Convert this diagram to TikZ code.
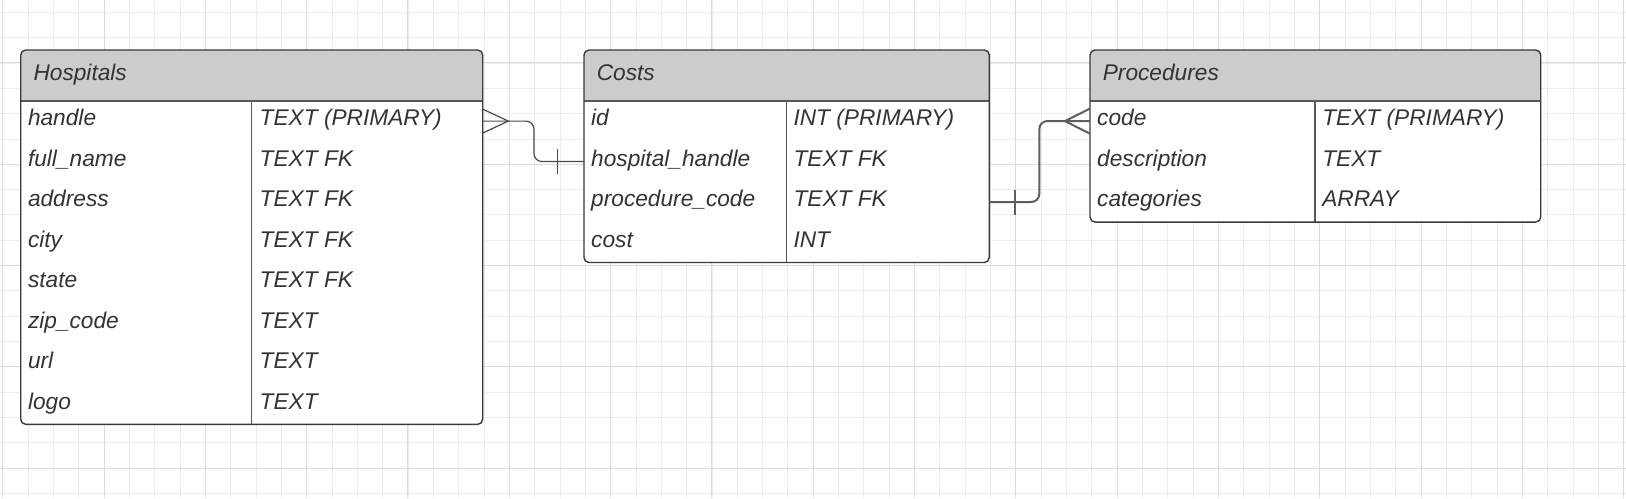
\documentclass[tikz,border=0pt]{standalone}
\usepackage{fontspec}
\setmainfont{Liberation Sans}
\usetikzlibrary{calc,fit}
\definecolor{gridminor}{HTML}{EDEDED}
\definecolor{gridmajor}{HTML}{DCDCDC}
\definecolor{hdrfill}{HTML}{CCCCCC}
\definecolor{bordercol}{HTML}{3A3A3A}
\definecolor{txtcol}{HTML}{333333}
\definecolor{conncolA}{HTML}{4A4A4A}
\definecolor{conncolB}{HTML}{5E5E5E}
\newcommand\ertable[6]{%
  \pgfmathsetmacro\ybot{100.7+40.45*#5}
  \node[fit={(#2,50) (#3,\ybot)}, inner sep=0pt, outer sep=0pt] (#1) {};
  \fill[white, rounded corners=2.5pt] (#1.north west) rectangle (#1.south east);
  \begin{scope}
    \clip[rounded corners=2.5pt] (#1.north west) rectangle (#1.south east);
    \fill[hdrfill] (#2,50) rectangle (#3,100.7);
  \end{scope}
  \draw[sepline] (#2,100.7) -- (#3,100.7);
  \draw[divline] (#4,100.7) -- (#4,\ybot);
  \draw[tblborder, rounded corners=2.5pt] (#1.north west) rectangle (#1.south east);
  \node[lbl] (#1-title) at ({#2+12.8},80.5) {#6};
}
\begin{document}
\begin{tikzpicture}[x=0.5pt,y=-0.5pt,
  lbl/.style={anchor=base west, inner sep=0pt, outer sep=0pt, text=txtcol, font=\fontsize{11.35}{13}\selectfont\itshape},
  sepline/.style={draw=bordercol!85!white, line width=0.85pt},
  divline/.style={draw=bordercol!85!white, line width=0.65pt},
  tblborder/.style={draw=bordercol, line width=0.7pt},
  conna/.style={draw=conncolA, line width=0.6pt},
  connb/.style={draw=conncolB, line width=1pt},
  gminor/.style={draw=gridminor, line width=0.45pt},
  gmajor/.style={draw=gridmajor, line width=0.5pt}]
\useasboundingbox (0,0) rectangle (1626,498);
\fill[white] (0,0) rectangle (1626,498);
% grid
\foreach \k in {0,...,64} { \draw[gminor] ({2.7+25.33*\k},0) -- ({2.7+25.33*\k},498); }
\foreach \k in {0,...,19} { \draw[gminor] (0,{12.3+25.33*\k}) -- (1626,{12.3+25.33*\k}); }
\foreach \k in {0,4,...,64} { \draw[gmajor] ({2.7+25.33*\k},0) -- ({2.7+25.33*\k},498); }
\foreach \k in {2,6,...,18} { \draw[gmajor] (0,{12.3+25.33*\k}) -- (1626,{12.3+25.33*\k}); }

% Hospitals
\ertable{hosp}{20.7}{482.7}{251.7}{8}{Hospitals}
\foreach \i/\a/\b in {1/handle/TEXT (PRIMARY),2/full\_name/TEXT FK,3/address/TEXT FK,4/city/TEXT FK,5/state/TEXT FK,6/zip\_code/TEXT,7/url/TEXT,8/logo/TEXT} {
  \coordinate (hosp-r\i) at (20.7,{100.7+40.45*(\i-1)+20.4});
  \node[lbl] (hosp-a\i) at (28,{100.7+40.45*(\i-1)+25.2}) {\a};
  \node[lbl] (hosp-b\i) at (259.7,{100.7+40.45*(\i-1)+25.2}) {\b};
}

% Costs
\ertable{costs}{584}{989.3}{786.7}{4}{Costs}
\foreach \i/\a/\b in {1/id/INT (PRIMARY),2/hospital\_handle/TEXT FK,3/procedure\_code/TEXT FK,4/cost/INT} {
  \coordinate (costs-r\i) at (584,{100.7+40.45*(\i-1)+20.4});
  \node[lbl] (costs-a\i) at (591.2,{100.7+40.45*(\i-1)+25.2}) {\a};
  \node[lbl] (costs-b\i) at (793.5,{100.7+40.45*(\i-1)+25.2}) {\b};
}

% Procedures
\ertable{proc}{1090}{1540.7}{1315}{3}{Procedures}
\foreach \i/\a/\b in {1/code/TEXT (PRIMARY),2/description/TEXT,3/categories/ARRAY} {
  \coordinate (proc-r\i) at (1090,{100.7+40.45*(\i-1)+20.4});
  \node[lbl] (proc-a\i) at (1097.2,{100.7+40.45*(\i-1)+25.2}) {\a};
  \node[lbl] (proc-b\i) at (1322.3,{100.7+40.45*(\i-1)+25.2}) {\b};
}

% Connector Hospitals.handle -> Costs.hospital_handle
\draw[conna, rounded corners=4pt] (hosp.east |- hosp-r1) -- ++(51.3,0) |- (costs.west |- costs-r2);
\draw[conna] ($(hosp.east |- hosp-r1)+(0,-12)$) -- ($(hosp.east |- hosp-r1)+(25.6,0)$) -- ($(hosp.east |- hosp-r1)+(0,12)$);
\draw[conna] ($(costs.west |- costs-r2)+(-26.3,-12.2)$) -- ++(0,24.4);

% Connector Costs.procedure_code -> Procedures.code
\draw[connb, rounded corners=4pt] (costs.east |- costs-r3) -- ++(50,0) |- (proc.west |- proc-r1);
\draw[connb] ($(proc.west |- proc-r1)+(0,-12.6)$) -- ($(proc.west |- proc-r1)+(-25,0)$) -- ($(proc.west |- proc-r1)+(0,12.6)$);
\draw[connb] ($(costs.east |- costs-r3)+(25.7,-12.5)$) -- ++(0,25);
\end{tikzpicture}
\end{document}
